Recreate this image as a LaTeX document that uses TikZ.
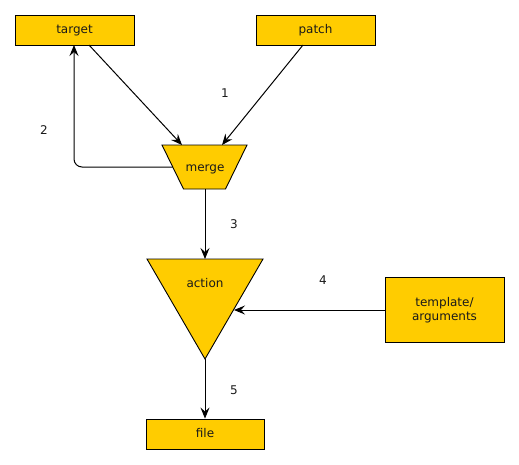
\documentclass[tikz,border=0pt]{standalone}
\usepackage{fontspec}
\setmainfont{DejaVu Sans}
\usetikzlibrary{arrows.meta}
\definecolor{boxfill}{HTML}{FFCC00}
\definecolor{txt}{HTML}{1A1A1A}
\begin{document}
\begin{tikzpicture}[x=1pt,y=-1pt,
  lbl/.style={font=\fontsize{12}{14}\selectfont, text=txt},
  rectbox/.style={draw=black, fill=boxfill, line width=0.9pt, inner sep=0pt},
  shapebox/.style={draw=black, fill=boxfill, line width=0.9pt},
  conn/.style={draw=black, line width=1pt, -{Stealth[length=11pt,width=9pt,inset=4pt]}}]
\useasboundingbox (0,0) rectangle (519,464);
% boxes
\node[rectbox, lbl, minimum width=119pt, minimum height=30pt, text height=8.5pt, text depth=1pt] (target) at (74.5,30) {target};
\node[rectbox, lbl, minimum width=119pt, minimum height=30pt, text height=8.5pt, text depth=1pt] (patch) at (315.5,30) {patch};
\node[rectbox, lbl, minimum width=119pt, minimum height=65pt, align=center] (tmpl) at (444.5,310) {template/\\arguments};
\node[rectbox, lbl, minimum width=118pt, minimum height=30pt, text height=8.5pt, text depth=1pt] (file) at (205,434) {file};
% merge trapezoid
\draw[shapebox] (162,145) -- (247,145) -- (225.5,189) -- (183.5,189) -- cycle;
\node[lbl, text height=8.5pt, text depth=1pt] (merge) at (205,168) {merge};
% action triangle
\draw[shapebox] (147,259) -- (263,259) -- (205,359) -- cycle;
\node[lbl, text height=8.5pt, text depth=1pt] (action) at (205,284) {action};
% connector anchors
\coordinate (mTopL) at (182,145);
\coordinate (mTopR) at (222,145);
\coordinate (mLeft) at (172.5,167);
\coordinate (mBot) at (205,189);
\coordinate (aTop) at (205,259);
\coordinate (aRight) at (234,310);
\coordinate (aApex) at (205,359);
\coordinate (tBot) at (89,45);
\coordinate (pBot) at (303,45);
\coordinate (tRet) at (74,45);
% connectors
\draw[conn] (tBot) -- (mTopL);
\draw[conn] (pBot) -- (mTopR);
\draw[conn, rounded corners=8pt] (mLeft) -- (74,167) -- (tRet);
\draw[conn] (mBot) -- (aTop);
\draw[conn] (tmpl.west) -- (aRight);
\draw[conn] (aApex) -- (file.north);
% labels
\node[lbl] (l1) at (225,93) {1};
\node[lbl] (l2) at (44,130) {2};
\node[lbl] (l3) at (234,224) {3};
\node[lbl] (l4) at (323,280) {4};
\node[lbl] (l5) at (234,390) {5};
\end{tikzpicture}
\end{document}
